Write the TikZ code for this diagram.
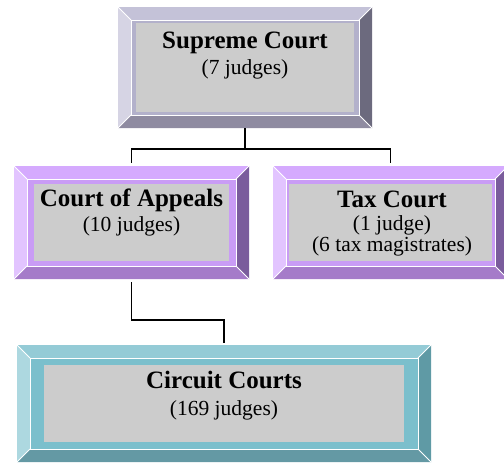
\documentclass[tikz,border=0pt]{standalone}
\usepackage{fontspec}
\setmainfont{Liberation Serif}
\usetikzlibrary{calc,positioning}

% bevel colours: top, left, right, bottom, face
\definecolor{suptop}{HTML}{C4C2D8}
\definecolor{supleft}{HTML}{D6D4E4}
\definecolor{supright}{HTML}{6C6A7E}
\definecolor{supbot}{HTML}{8F8BA1}
\definecolor{supface}{HTML}{B3B1CB}
\definecolor{apptop}{HTML}{D5AAFE}
\definecolor{appleft}{HTML}{E2C4FF}
\definecolor{appright}{HTML}{7A5C9C}
\definecolor{appbot}{HTML}{A57BC9}
\definecolor{appface}{HTML}{C99CF5}
\definecolor{cirtop}{HTML}{94CBD6}
\definecolor{cirleft}{HTML}{ADD8E0}
\definecolor{cirright}{HTML}{5F9AA5}
\definecolor{cirbot}{HTML}{6499A4}
\definecolor{cirface}{HTML}{7BBFCC}

\newcommand\courtframe[3]{%
  \def\bw{13pt}%
  \coordinate (pw) at (path picture bounding box.north west);
  \coordinate (pe) at (path picture bounding box.south east);
  \fill[#1top] (pw) -- (pw -| pe) -- ($(pw -| pe)+(-\bw,-\bw)$) -- ($(pw)+(\bw,-\bw)$) -- cycle;
  \fill[#1left] (pw) -- ($(pw)+(\bw,-\bw)$) -- ($(pe -| pw)+(\bw,\bw)$) -- (pe -| pw) -- cycle;
  \fill[#1right] (pw -| pe) -- (pe) -- ($(pe)+(-\bw,\bw)$) -- ($(pw -| pe)+(-\bw,-\bw)$) -- cycle;
  \fill[#1bot] (pe -| pw) -- (pe) -- ($(pe)+(-\bw,\bw)$) -- ($(pe -| pw)+(\bw,\bw)$) -- cycle;
  \fill[gray!40] ($(pw)+(\bw+#2,-\bw-#3)$) rectangle ($(pe)+(-\bw-#2,\bw+#3)$);
  \draw[white,line width=0.9pt] ($(pw)+(\bw,-\bw)$) rectangle ($(pe)+(-\bw,\bw)$);
  \draw[white,line width=0.9pt] (pw) -- ++(\bw,-\bw) (pw -| pe) -- ++(-\bw,-\bw)
    (pe) -- ++(-\bw,\bw) (pe -| pw) -- ++(\bw,\bw);
}

\tikzset{
  court/.style n args={3}{rectangle,inner sep=0pt,fill=#1face,path picture={\courtframe{#1}{#2}{#3}}},
  head/.style={anchor=base,inner sep=0pt,font=\fontsize{25}{28}\selectfont\bfseries},
  sub/.style={anchor=base,inner sep=0pt,font=\fontsize{21.5}{24}\selectfont},
  link/.style={line width=1.5pt}
}

\begin{document}
\begin{tikzpicture}[x=1pt,y=-1pt]
    \useasboundingbox (0,0) rectangle (504,463);

    \node[court={sup}{5pt}{3pt},minimum width=254pt,minimum height=121pt] (supreme) at (245,67.5) {};
    \node[court={app}{7pt}{5pt},minimum width=235pt,minimum height=113pt] (appeals) at (131.5,222.5) {};
    \node[court={app}{3pt}{5pt},minimum width=235pt,minimum height=113pt] (tax) at (390.5,222.5) {};
    \node[court={cir}{14pt}{7pt},minimum width=414pt,minimum height=117pt] (circuit) at (224,403.5) {};

    \node[head] (supremeT) at (245,48) {Supreme Court};
    \node[sub] (supremeN) at (245,74) {(7 judges)};
    \node[head] (appealsT) at (131.5,206) {Court of Appeals};
    \node[sub] (appealsN) at (131.5,231) {(10 judges)};
    \node[head] (taxT) at (392,207) {Tax Court};
    \node[sub] (taxN) at (392,230) {(1 judge)};
    \node[sub] (taxM) at (392,251) {(6 tax magistrates)};
    \node[head] (circuitT) at (224,388) {Circuit Courts};
    \node[sub] (circuitN) at (224,415) {(169 judges)};

    \draw[link,shorten >=3pt] (supreme.south) -- ++(0,21) -| (appeals.north);
    \draw[link,shorten >=3pt] (supreme.south) -- ++(0,21) -| (tax.north);
    \draw[link,shorten <=3pt,shorten >=2pt] (appeals.south) -- ++(0,41) -| (circuit.north);
\end{tikzpicture}
\end{document}
